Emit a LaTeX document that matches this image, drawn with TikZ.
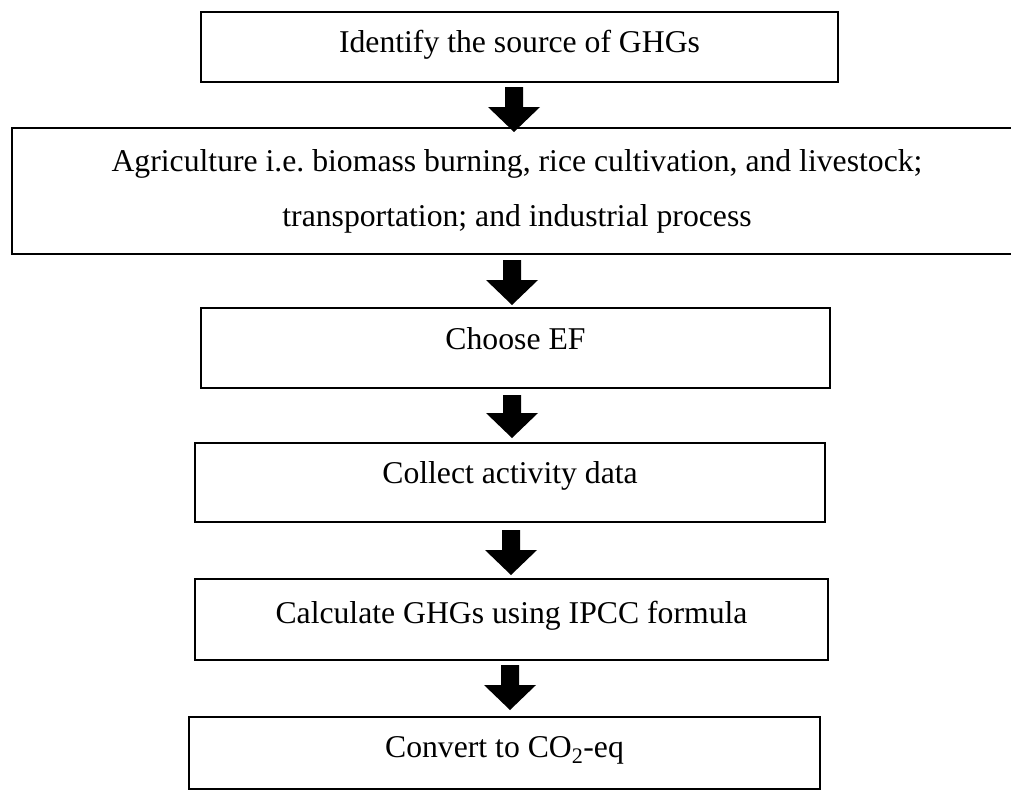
\documentclass[tikz,border=0pt]{standalone}
\usepackage{fontspec}
\setmainfont{Liberation Serif}
\usetikzlibrary{calc}
\frenchspacing
\newcommand\blockarrow[5]{% from node, to node, x coordinate, start offset, tip offset
  \path (#1.south -| #3) ++(0,#4) coordinate (s-#1) (#2.north -| #3) ++(0,#5) coordinate (t-#1);
  \fill[arrowfill] ($(s-#1)+(-9,0)$) -- ($(t-#1)+(-9,-25)$) -- ($(t-#1)+(-26,-25)$) -- (t-#1)
    -- ($(t-#1)+(26,-25)$) -- ($(t-#1)+(9,-25)$) -- ($(s-#1)+(9,0)$) -- cycle;}
\begin{document}
\begin{tikzpicture}[x=1pt,y=-1pt,
  boxbase/.style={draw, line width=2.4pt, inner sep=0pt, outer sep=0pt, align=center,
    font=\fontsize{31.7}{55}\selectfont},
  box/.style={boxbase, text height=22pt},
  arrowfill/.style={fill=black}]
\useasboundingbox (0,0) rectangle (1011,790);
\node[box, minimum width=637pt, minimum height=70pt, text depth=12pt] (b1) at (519.5,47) {Identify the source of GHGs};
\node[boxbase, minimum width=1010pt, minimum height=126pt] (b2) at (517,191)
  {Agriculture i.e. biomass burning, rice cultivation, and livestock;\\transportation; and industrial process};
\node[box, minimum width=629pt, minimum height=80pt, text depth=20pt] (b3) at (515.5,348) {Choose EF};
\node[box, minimum width=630pt, minimum height=79pt, text depth=21pt] (b4) at (510,482.5) {Collect activity data};
\node[box, minimum width=633pt, minimum height=81pt, text depth=15pt] (b5) at (511.5,619.5) {Calculate GHGs using IPCC formula};
\node[box, minimum width=631pt, minimum height=72pt, text depth=14pt] (b6) at (504.5,753) {Convert to CO\textsubscript{2}-eq};
\coordinate (ax1) at (514,0);
\coordinate (ax2) at (512,0);
\coordinate (ax3) at (512,0);
\coordinate (ax4) at (511,0);
\coordinate (ax5) at (510,0);
\blockarrow{b1}{b2}{ax1}{5}{4}
\blockarrow{b2}{b3}{ax2}{6}{-3}
\blockarrow{b3}{b4}{ax3}{7}{-5}
\blockarrow{b4}{b5}{ax4}{8}{-4}
\blockarrow{b5}{b6}{ax5}{5}{-7}
\end{tikzpicture}
\end{document}
